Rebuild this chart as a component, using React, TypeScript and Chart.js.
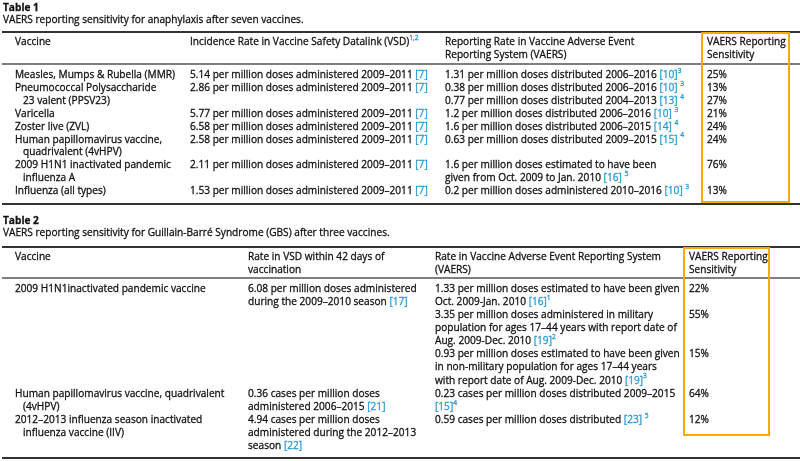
import React, { useEffect, useRef } from "react";
import { Chart, registerables } from "chart.js";

Chart.register(...registerables);

// ---------- DATA ----------
const table1Title = "Table 1";
const table1Caption = "VAERS reporting sensitivity for anaphylaxis after seven vaccines.";
const table1Headers = [
  ["Vaccine"],
  ["Incidence Rate in Vaccine Safety Datalink (VSD)^1,2"],
  ["Reporting Rate in Vaccine Adverse Event", "Reporting System (VAERS)"],
  ["VAERS Reporting", "Sensitivity"],
];
const table1Vaccines = [
  ["Measles, Mumps & Rubella (MMR)"],
  ["Pneumococcal Polysaccharide", "23 valent (PPSV23)"],
  ["Varicella"],
  ["Zoster live (ZVL)"],
  ["Human papillomavirus vaccine,", "quadrivalent (4vHPV)"],
  ["2009 H1N1 inactivated pandemic", "influenza A"],
  ["Influenza (all types)"],
];
const table1VsdRates = [
  ["5.14 per million doses administered 2009–2011 [7]"],
  ["2.86 per million doses administered 2009–2011 [7]"],
  ["5.77 per million doses administered 2009–2011 [7]"],
  ["6.58 per million doses administered 2009–2011 [7]"],
  ["2.58 per million doses administered 2009–2011 [7]"],
  ["2.11 per million doses administered 2009–2011 [7]"],
  ["1.53 per million doses administered 2009–2011 [7]"],
];
const table1VaersRates = [
  [["1.31 per million doses distributed 2006–2016 [10]^3"]],
  [["0.38 per million doses distributed 2006–2016 [10] ^3"], ["0.77 per million doses distributed 2004–2013 [13] ^4"]],
  [["1.2 per million doses distributed 2006–2016 [10] ^3"]],
  [["1.6 per million doses distributed 2006–2015 [14] ^4"]],
  [["0.63 per million doses distributed 2009–2015 [15] ^4"]],
  [["1.6 per million doses estimated to have been", "given from Oct. 2009 to Jan. 2010 [16] ^5"]],
  [["0.2 per million doses administered 2010–2016 [10] ^3"]],
];
const table1Sensitivity = [["25%"], ["13%", "27%"], ["21%"], ["24%"], ["24%"], ["76%"], ["13%"]];

const table2Title = "Table 2";
const table2Caption = "VAERS reporting sensitivity for Guillain-Barré Syndrome (GBS) after three vaccines.";
const table2Headers = [
  ["Vaccine"],
  ["Rate in VSD within 42 days of", "vaccination"],
  ["Rate in Vaccine Adverse Event Reporting System", "(VAERS)"],
  ["VAERS Reporting", "Sensitivity"],
];
const table2Vaccines = [
  ["2009 H1N1inactivated pandemic vaccine"],
  ["Human papillomavirus vaccine, quadrivalent", "(4vHPV)"],
  ["2012–2013 influenza season inactivated", "influenza vaccine (IIV)"],
];
const table2VsdRates = [
  ["6.08 per million doses administered", "during the 2009–2010 season [17]"],
  ["0.36 cases per million doses", "administered 2006–2015 [21]"],
  ["4.94 cases per million doses", "administered during the 2012–2013", "season [22]"],
];
const table2VaersRates = [
  [
    ["1.33 per million doses estimated to have been given", "Oct. 2009-Jan. 2010 [16]^1"],
    ["3.35 per million doses administered in military", "population for ages 17–44 years with report date of", "Aug. 2009-Dec. 2010 [19]^2"],
    ["0.93 per million doses estimated to have been given", "in non-military population for ages 17–44 years", "with report date of Aug. 2009-Dec. 2010 [19]^3"],
  ],
  [["0.23 cases per million doses distributed 2009–2015", "[15]^4"]],
  [["0.59 cases per million doses distributed [23] ^5"]],
];
const table2Sensitivity = [["22%", "55%", "15%"], ["64%"], ["12%"]];

// ---------- STYLE / LAYOUT ----------
const FONT_FAMILY = '"Open Sans", "DejaVu Sans", sans-serif';
const FONT_SIZE = 10.6;
const TEXT = "#111111";
const LINK = "#2b9bd3";
const ORANGE = "#f7ab0a";
const RULE = "#333333";

type TableSpec = {
  title: string;
  caption: string;
  headers: string[][];
  vaccines: string[][];
  vsd: string[][];
  vaers: string[][][];
  sens: string[][];
  titleY: number;
  captionY: number;
  topRule: number;
  headerY: number;
  headerRule: number;
  bodyY: number;
  lineH: number;
  bottomRule: number;
  cols: number[];
  box: [number, number, number, number];
};

const tables: TableSpec[] = [
  {
    title: table1Title,
    caption: table1Caption,
    headers: table1Headers,
    vaccines: table1Vaccines,
    vsd: table1VsdRates,
    vaers: table1VaersRates,
    sens: table1Sensitivity,
    titleY: 8,
    captionY: 20,
    topRule: 32,
    headerY: 42,
    headerRule: 64,
    bodyY: 75,
    lineH: 12.9,
    bottomRule: 204,
    cols: [15, 190, 445, 707],
    box: [702, 33, 789, 202],
  },
  {
    title: table2Title,
    caption: table2Caption,
    headers: table2Headers,
    vaccines: table2Vaccines,
    vsd: table2VsdRates,
    vaers: table2VaersRates,
    sens: table2Sensitivity,
    titleY: 221,
    captionY: 233,
    topRule: 247,
    headerY: 257,
    headerRule: 278,
    bodyY: 289,
    lineH: 13.07,
    bottomRule: 458,
    cols: [15, 248, 435, 689],
    box: [684, 248, 769, 435],
  },
];

let SCALE_X = 1;

function drawRich(ctx: CanvasRenderingContext2D, str: string, x: number, y: number, size: number, weight = "normal") {
  const re = /(\[\d+\])|(\^\S+)/g;
  let last = 0;
  let cx = x;
  const font = `${weight} ${size}px ${FONT_FAMILY}`;
  const supFont = `${size * 0.66}px ${FONT_FAMILY}`;
  const put = (t: string, color: string, f: string, dy: number) => {
    ctx.font = f;
    ctx.fillStyle = color;
    ctx.strokeStyle = color;
    ctx.lineWidth = 0.3;
    ctx.save();
    ctx.translate(cx, y + dy);
    ctx.scale(SCALE_X, 1);
    ctx.fillText(t, 0, 0);
    ctx.strokeText(t, 0, 0);
    ctx.restore();
    cx += ctx.measureText(t).width * SCALE_X;
  };
  let m: RegExpExecArray | null;
  while ((m = re.exec(str))) {
    if (m.index > last) put(str.slice(last, m.index), TEXT, font, 0);
    if (m[1]) put(m[1], LINK, font, 0);
    else put(m[2].slice(1), LINK, supFont, -4);
    last = m.index + m[0].length;
  }
  if (last < str.length) put(str.slice(last), TEXT, font, 0);
}

const tablePlugin = {
  id: "tablePlugin",
  afterDraw(chart: any) {
    const ctx: CanvasRenderingContext2D = chart.ctx;
    const sx = chart.scales.x;
    const sy = chart.scales.y;
    const X = (v: number) => sx.getPixelForValue(v);
    const Y = (v: number) => sy.getPixelForValue(v);
    ctx.save();
    const size = FONT_SIZE;
    ctx.font = `${size}px ${FONT_FAMILY}`;
    const w = ctx.measureText("Measles, Mumps & Rubella (MMR)").width;
    SCALE_X = Math.min(1, 160 / w);
    ctx.textBaseline = "middle";
    ctx.textAlign = "left";

    const hline = (y: number, w: number, color: string) => {
      ctx.strokeStyle = color;
      ctx.lineWidth = w;
      ctx.beginPath();
      ctx.moveTo(X(2), Y(y));
      ctx.lineTo(X(800), Y(y));
      ctx.stroke();
    };

    for (const t of tables) {
      drawRich(ctx, t.title, X(3), Y(t.titleY), size, "bold");
      drawRich(ctx, t.caption, X(3), Y(t.captionY), size);

      hline(t.topRule, 2, RULE);
      hline(t.headerRule, 1.5, "#555");
      hline(t.bottomRule, 2, RULE);

      t.headers.forEach((lines, c) => {
        lines.forEach((ln, i) => drawRich(ctx, ln, X(t.cols[c]), Y(t.headerY + i * t.lineH), size));
      });

      let line = 0;
      t.vaccines.forEach((name, r) => {
        name.forEach((ln, i) => drawRich(ctx, ln, X(t.cols[0] + (i > 0 ? 8 : 0)), Y(t.bodyY + (line + i) * t.lineH), size));
        t.vsd[r].forEach((ln, i) => drawRich(ctx, ln, X(t.cols[1]), Y(t.bodyY + (line + i) * t.lineH), size));
        let sub = 0;
        t.vaers[r].forEach((entry, e) => {
          entry.forEach((ln, i) => drawRich(ctx, ln, X(t.cols[2]), Y(t.bodyY + (line + sub + i) * t.lineH), size));
          const s = t.sens[r][e];
          if (s) drawRich(ctx, s, X(t.cols[3]), Y(t.bodyY + (line + sub) * t.lineH), size);
          sub += entry.length;
        });
        line += Math.max(name.length, t.vsd[r].length, sub);
      });

      const [bx0, by0, bx1, by1] = t.box;
      ctx.strokeStyle = ORANGE;
      ctx.lineWidth = 2;
      ctx.strokeRect(X(bx0), Y(by0), X(bx1) - X(bx0), Y(by1) - Y(by0));
    }
    ctx.restore();
  },
};

export default function App() {
  const ref = useRef<HTMLCanvasElement | null>(null);
  useEffect(() => {
    document.body.style.margin = "0";
    document.body.style.background = "#ffffff";
    const chart = new Chart(ref.current!, {
      type: "scatter",
      data: { datasets: [{ data: [] }] },
      options: {
        animation: false,
        responsive: false,
        layout: { padding: 0 },
        plugins: { legend: { display: false }, tooltip: { enabled: false } },
        scales: {
          x: { type: "linear", min: 0, max: 800, display: false },
          y: { type: "linear", min: 0, max: 461, reverse: true, display: false },
        },
      },
      plugins: [tablePlugin],
    });
    return () => chart.destroy();
  }, []);
  return (
    <div style={{ width: 800, height: 461, background: "#fff" }}>
      <canvas ref={ref} width={800} height={461} />
    </div>
  );
}
